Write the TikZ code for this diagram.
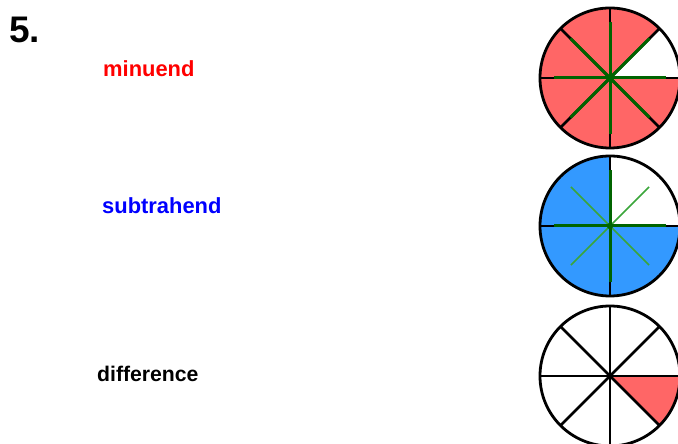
\documentclass[tikz,border=0pt]{standalone}
\usepackage{fontspec}
\setmainfont{Liberation Sans}
\begin{document}
\begin{tikzpicture}[x=1pt,y=1pt,
  lbl/.style={inner sep=0pt,anchor=base west,font=\bfseries\fontsize{21.9}{24}\selectfont},
  rim/.style={draw=black,line width=2.8pt},
  spoke/.style={draw=black,line width=2.7pt},
  gspoke/.style={draw=dkgreen,line width=3pt},
  lgspoke/.style={draw=ltgreen,line width=1.7pt}]
\definecolor{pink}{HTML}{FF6666}
\definecolor{sky}{HTML}{3399FF}
\definecolor{dkgreen}{HTML}{006400}
\definecolor{ltgreen}{HTML}{3AA63A}
\useasboundingbox (0,0) rectangle (678,444);
\fill[white] (0,0) rectangle (678,444);
\def\R{70}
% texts
\node[inner sep=0pt,anchor=base west,font=\bfseries\fontsize{37}{40}\selectfont] (num) at (9,401) {5.};
\node[lbl,text=red] (min) at (103,367) {minuend};
\node[lbl,text=blue] (sub) at (102,230) {subtrahend};
\node[lbl,text=black,font=\bfseries\fontsize{21.2}{24}\selectfont] (dif) at (97,62) {difference};
% centers
\coordinate (c1) at (610,366);
\coordinate (c2) at (610,218);
\coordinate (c3) at (610,68);
% circle 1: 7/8 red
\fill[pink] (c1) -- ++(45:\R) arc[start angle=45,end angle=360,radius=\R] -- cycle;
\foreach \a in {0,45,...,315} \draw[spoke] (c1) -- ++(\a:\R);
\foreach \a in {0,45,...,315} \draw[gspoke] (c1) -- ++(\a:0.8*\R);
\draw[rim] (c1) circle[radius=\R];
\fill[dkgreen] (c1) circle[radius=3.4];
% circle 2: 3/4 blue
\fill[sky] (c2) -- ++(90:\R) arc[start angle=90,end angle=360,radius=\R] -- cycle;
\foreach \a in {0,90,180,270} \draw[spoke] (c2) -- ++(\a:\R);
\foreach \a in {45,135,225,315} \draw[lgspoke] (c2) -- ++(\a:0.79*\R);
\foreach \a in {0,90,180,270} \draw[gspoke] (c2) -- ++(\a:0.8*\R);
\draw[rim] (c2) circle[radius=\R];
\fill[dkgreen] (c2) circle[radius=3.2];
% circle 3: 1/8 red
\fill[pink] (c3) -- ++(-45:\R) arc[start angle=-45,end angle=0,radius=\R] -- cycle;
\foreach \a in {0,45,...,315} \draw[spoke] (c3) -- ++(\a:\R);
\draw[rim] (c3) circle[radius=\R];
\end{tikzpicture}
\end{document}
